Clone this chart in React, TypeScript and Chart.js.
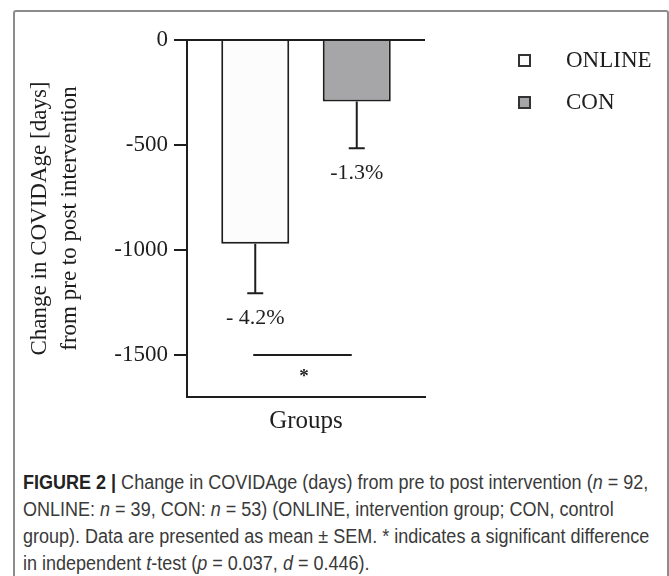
import React, { useEffect, useLayoutEffect, useRef } from "react";
import { Chart, registerables } from "chart.js";

Chart.register(...registerables);

// ---- data ----
const categories = ["Groups"];
const seriesLabels = ["ONLINE", "CON"];
const meanChange = [-970, -293];
const semValues = [236, 222];
const percentLabels = ["- 4.2%", "-1.3%"];
const seriesFill = ["#fcfcfc", "#a6a6a8"];
const yTickValues = [0, -500, -1000, -1500];
const yMin = -1700;
const yMax = 0;
const significanceLevel = -1500;
const significanceMark = "*";
const yTitleLines = ["Change in COVIDAge [days]", "from pre to post intervention"];
const xTitle = "Groups";

const INK = "#1e1e1e";
const SERIF = "'Liberation Serif', 'Times New Roman', serif";
const CAPTION_FIRST_LINE_WIDTH = 625;

const annotationPlugin = {
  id: "annotations",
  afterDatasetsDraw(chart: any) {
    const ctx = chart.ctx;
    const y = chart.scales.y;
    ctx.save();
    ctx.strokeStyle = INK;
    ctx.fillStyle = INK;
    ctx.lineWidth = 2;
    const centers: number[] = [];
    chart.data.datasets.forEach((ds: any, i: number) => {
      const meta = chart.getDatasetMeta(i);
      const bar = meta.data[0];
      if (!bar) return;
      const x = bar.x;
      centers.push(x);
      const yEnd = y.getPixelForValue(meanChange[i] - semValues[i]);
      ctx.beginPath();
      ctx.moveTo(x, bar.y);
      ctx.lineTo(x, yEnd);
      ctx.moveTo(x - 8, yEnd);
      ctx.lineTo(x + 8, yEnd);
      ctx.stroke();
      ctx.font = `22px ${SERIF}`;
      ctx.textAlign = "center";
      ctx.textBaseline = "middle";
      ctx.fillText(percentLabels[i], x, yEnd + 25);
    });
    if (centers.length === 2) {
      const ys = y.getPixelForValue(significanceLevel);
      ctx.beginPath();
      ctx.moveTo(centers[0] - 2, ys);
      ctx.lineTo(centers[1] - 5, ys);
      ctx.stroke();
      ctx.font = `bold 19px ${SERIF}`;
      ctx.textAlign = "center";
      ctx.textBaseline = "middle";
      ctx.fillText(significanceMark, (centers[0] + centers[1]) / 2 - 2, ys + 22);
    }
    ctx.restore();
  },
};

export default function App() {
  const canvasRef = useRef<HTMLCanvasElement | null>(null);
  const lineRefs = useRef<(HTMLDivElement | null)[]>([]);

  useLayoutEffect(() => {
    const lines = lineRefs.current.filter(Boolean) as HTMLDivElement[];
    if (!lines.length) return;
    const w0 = lines[0].scrollWidth;
    const k = w0 > 0 ? CAPTION_FIRST_LINE_WIDTH / w0 : 1;
    lines.forEach((el) => {
      el.style.transform = `scaleX(${k})`;
    });
  }, []);

  useEffect(() => {
    const canvas = canvasRef.current;
    if (!canvas) return;
    const chart = new Chart(canvas, {
      type: "bar",
      data: {
        labels: categories,
        datasets: seriesLabels.map((label, i) => ({
          label,
          data: [meanChange[i]],
          backgroundColor: seriesFill[i],
          borderColor: INK,
          borderWidth: 2,
          borderSkipped: "start",
          categoryPercentage: 0.853,
          barPercentage: 0.67,
        })),
      },
      options: {
        responsive: false,
        animation: false,
        devicePixelRatio: 1,
        layout: { padding: { left: 0, top: 40, right: 244, bottom: 0 } },
        plugins: {
          legend: { display: false },
          tooltip: { enabled: false },
          title: { display: false },
        },
        scales: {
          x: {
            ticks: { display: false },
            grid: { display: false },
            border: { display: true, color: INK, width: 2 },
            title: {
              display: true,
              text: xTitle,
              color: INK,
              font: { family: SERIF, size: 25, lineHeight: 1.2 },
              padding: { top: 0, bottom: 24 },
            },
            afterFit: (scale: any) => {
              scale.height = 63;
            },
          },
          y: {
            min: yMin,
            max: yMax,
            afterBuildTicks: (scale: any) => {
              scale.ticks = yTickValues.map((v) => ({ value: v }));
            },
            ticks: {
              color: INK,
              padding: 6,
              font: { family: SERIF, size: 23 },
              callback: (v: any) => String(v),
            },
            grid: {
              display: true,
              drawOnChartArea: true,
              color: (c: any) => (c.tick && c.tick.value === 0 ? INK : "rgba(0,0,0,0)"),
              lineWidth: 2,
              tickColor: INK,
              tickLength: 13,
              tickWidth: 2,
            },
            border: { display: true, color: INK, width: 2 },
            title: {
              display: true,
              text: yTitleLines,
              color: INK,
              font: { family: SERIF, size: 23, lineHeight: 1.3 },
              padding: { top: 25, bottom: 0 },
            },
            afterFit: (scale: any) => {
              scale.width = 187;
            },
          },
        },
      },
      plugins: [annotationPlugin],
    } as any);
    return () => chart.destroy();
  }, []);

  const lineStyle = (i: number): React.CSSProperties => ({
    position: "absolute",
    left: 23,
    top: 469 + i * 27,
    fontFamily: "'Liberation Sans', Arial, sans-serif",
    fontSize: 20,
    lineHeight: "27px",
    color: "#3a3a3a",
    whiteSpace: "pre",
    transformOrigin: "0 50%",
    display: "inline-block",
  });

  return (
    <div
      style={{
        position: "absolute",
        left: 0,
        top: 0,
        width: 669,
        height: 576,
        overflow: "hidden",
        background: "#fff",
      }}
    >
      <div
        style={{
          position: "absolute",
          left: 13,
          top: 10,
          width: 652,
          height: 620,
          border: "2px solid #8c8c8c",
          borderRadius: 3,
        }}
      />
      <canvas
        ref={canvasRef}
        width={669}
        height={460}
        style={{ position: "absolute", left: 0, top: 0, width: 669, height: 460 }}
      />
      {seriesLabels.map((label, i) => (
        <div key={label}>
          <div
            style={{
              position: "absolute",
              left: 518,
              top: 54 + i * 42,
              width: 13,
              height: 13,
              boxSizing: "border-box",
              border: "2px solid #333",
              background: seriesFill[i],
            }}
          />
          <div
            style={{
              position: "absolute",
              left: 566,
              top: 45 + i * 42,
              fontFamily: SERIF,
              fontSize: 23,
              lineHeight: "30px",
              color: INK,
              whiteSpace: "nowrap",
            }}
          >
            {label}
          </div>
        </div>
      ))}
      <div ref={(el) => { lineRefs.current[0] = el; }} style={lineStyle(0)}>
        <b style={{ color: "#222" }}>FIGURE 2 | </b>
        {"Change in COVIDAge (days) from pre to post intervention ("}
        <i>n</i>
        {" = 92,"}
      </div>
      <div ref={(el) => { lineRefs.current[1] = el; }} style={lineStyle(1)}>
        {"ONLINE: "}
        <i>n</i>
        {" = 39, CON: "}
        <i>n</i>
        {" = 53) (ONLINE, intervention group; CON, control"}
      </div>
      <div ref={(el) => { lineRefs.current[2] = el; }} style={lineStyle(2)}>
        {"group). Data are presented as mean \u00b1 SEM. * indicates a significant difference"}
      </div>
      <div ref={(el) => { lineRefs.current[3] = el; }} style={lineStyle(3)}>
        {"in independent "}
        <i>t</i>
        {"-test ("}
        <i>p</i>
        {" = 0.037, "}
        <i>d</i>
        {" = 0.446)."}
      </div>
    </div>
  );
}
